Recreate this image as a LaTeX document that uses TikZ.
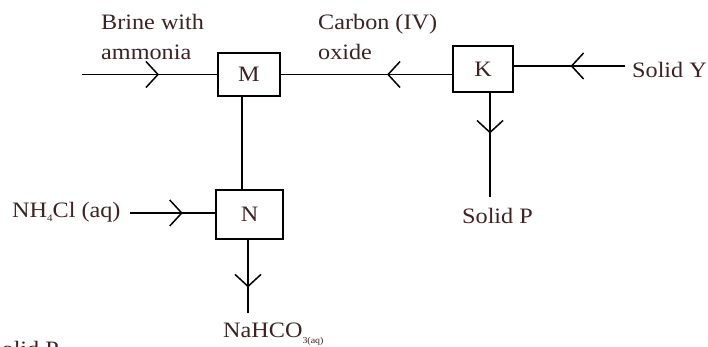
\documentclass[tikz,border=0pt]{standalone}
\usepackage{fontspec}
\setmainfont{Liberation Serif}[FakeStretch=1.1]
\usetikzlibrary{arrows.meta,decorations.markings,calc}
\definecolor{txt}{RGB}{62,34,36}
\tikzset{
  lbl/.style={text=txt, inner sep=0pt, font=\fontsize{22}{30}\selectfont, align=left},
  box/.style={draw=black, line width=1.8pt, fill=white, inner sep=0pt, text=txt, font=\fontsize{22}{26}\selectfont},
  flow/.style={line width=1.7pt},
  midarrow/.style={postaction={decorate}, decoration={markings, mark=at position #1 with {\arrow[line width=1.5pt]{Straight Barb[length=12pt,width=26pt]}}}}
}
\begin{document}
\begin{tikzpicture}[x=1pt,y=-1pt]
\useasboundingbox[fill=white] (0,0) rectangle (708,347);
% boxes
\node[box, minimum width=62pt, minimum height=43pt] (M) at (249,74.5) {M};
\node[box, minimum width=60pt, minimum height=46pt] (K) at (483,69) {K};
\node[box, minimum width=67pt, minimum height=49pt] (N) at (249.5,214.5) {N};
% free ends
\coordinate (brinein) at (82,74.5);
\coordinate (yin) at (625,66);
\coordinate (pout) at (490,197);
\coordinate (nhin) at (130,213);
\coordinate (naout) at (248,313);
\coordinate (mn) at (242,96);
% labels
\node[lbl, anchor=base west] (brine) at (101,60) {Brine with\\ammonia};
\node[lbl, anchor=base west] (carbon) at (318,60) {Carbon (IV)\\oxide};
\node[lbl, anchor=base west] (solidY) at (632,78) {Solid Y};
\node[lbl, anchor=base west] (solidP) at (462,223) {Solid P};
\node[lbl, anchor=base west] (nh4cl) at (12,218) {NH\raisebox{-4pt}{\fontsize{10}{10}\selectfont 4}Cl (aq)};
\node[lbl, anchor=base west] (nahco) at (223,337) {NaHCO\raisebox{-6pt}{\fontsize{9}{9}\selectfont 3(aq)}};
\node[lbl, anchor=base west] (solidPcut) at (-12,356) {Solid P};
% connectors
\draw[flow, midarrow=0.57] (brinein) -- (M.west);
\draw[flow, midarrow=0.38] (K.west |- M.east) -- (M.east);
\draw[flow, midarrow=0.49] (yin) -- (yin -| K.east);
\draw[flow, midarrow=0.39] (pout |- K.south) -- (pout);
\draw[flow] (mn |- M.south) -- (mn |- N.north);
\draw[flow, midarrow=0.62] (nhin) -- (nhin -| N.west);
\draw[flow, midarrow=0.65] (naout |- N.south) -- (naout);
\end{tikzpicture}
\end{document}
